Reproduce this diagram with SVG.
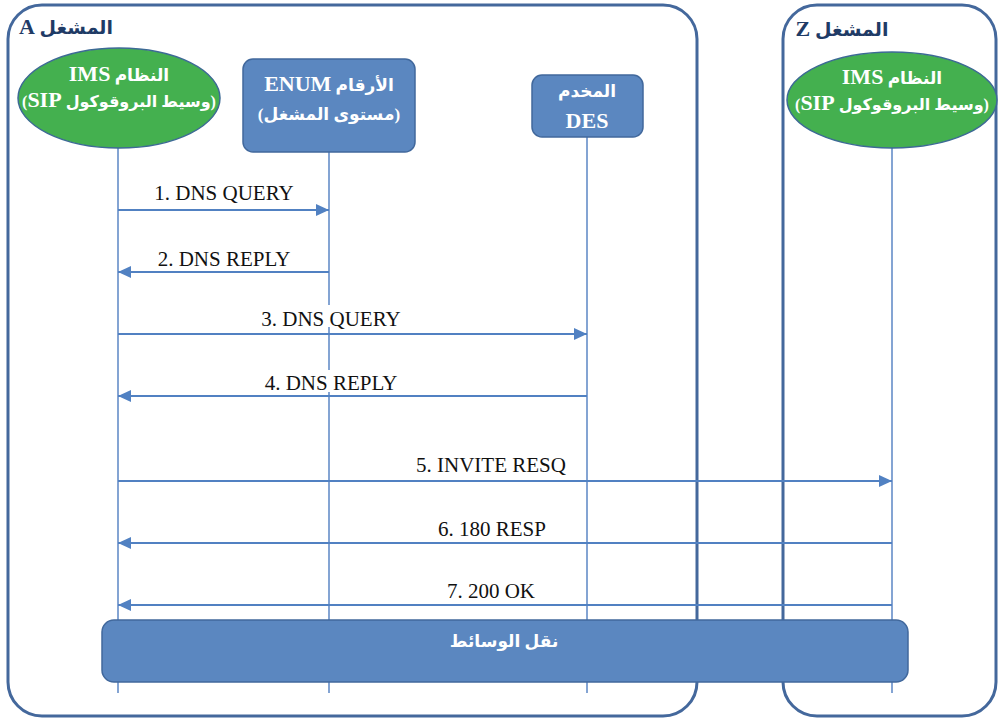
<svg xmlns="http://www.w3.org/2000/svg" width="998" height="722" viewBox="0 0 998 722">
  <style>
    .op { fill: none; stroke: #44689c; stroke-width: 3; }
    .oplabel { font-family: "Liberation Serif", "DejaVu Sans", serif; font-weight: bold; font-size: 19px; fill: #1f3b66; }
    .ims { fill: #44b04f; stroke: #3d6a95; stroke-width: 1.5; }
    .box { fill: #5b87c0; stroke: #41689c; stroke-width: 1.5; }
    .ntext { font-family: "Liberation Serif", "DejaVu Sans", serif; font-weight: bold; font-size: 17px; fill: #ffffff; text-anchor: middle; }
    .tight { font-size: 16px; }
    .lat { font-size: 22px; }
    .life { stroke: #5b86c5; stroke-width: 1.5; fill: none; }
    .msg { stroke: #5181c2; stroke-width: 2; fill: none; marker-end: url(#head); }
    .mlabel { font-family: "Liberation Serif", serif; font-size: 21px; fill: #111111; text-anchor: middle; }
    .bg { fill: #ffffff; }
  </style>
  <defs>
    <marker id="head" viewBox="0 0 13 12" refX="13" refY="6" markerUnits="userSpaceOnUse" markerWidth="13" markerHeight="12" orient="auto">
      <path d="M0,0 L13,6 L0,12 z" fill="#5181c2"/>
    </marker>
  </defs>

  <rect width="998" height="722" fill="#ffffff"/>

  <!-- operator domains -->
  <g id="operator-a">
    <rect class="op" x="8" y="5" width="689" height="711" rx="34" ry="34"/>
    <text class="oplabel" x="66" y="34" text-anchor="middle" direction="rtl">المشغل <tspan class="lat">A</tspan></text>
  </g>
  <g id="operator-z">
    <rect class="op" x="783" y="5" width="213" height="711" rx="34" ry="34"/>
    <text class="oplabel" x="842" y="36" text-anchor="middle" direction="rtl">المشغل <tspan class="lat">Z</tspan></text>
  </g>

  <!-- lifelines -->
  <g id="lifelines">
    <line class="life" x1="118" y1="148" x2="118" y2="693"/>
    <line class="life" x1="329" y1="152" x2="329" y2="693"/>
    <line class="life" x1="587" y1="137" x2="587" y2="693"/>
    <line class="life" x1="892" y1="148" x2="892" y2="693"/>
  </g>

  <!-- nodes -->
  <g id="ims-a">
    <ellipse class="ims" cx="119" cy="98" rx="101" ry="50"/>
    <text class="ntext" x="119" y="81" direction="rtl">النظام <tspan class="lat">IMS</tspan></text>
    <text class="ntext tight" x="119" y="107" direction="rtl">(وسيط البروقوكول <tspan class="lat">SIP</tspan>)</text>
  </g>
  <g id="enum">
    <rect class="box" x="243" y="59" width="172" height="93" rx="10" ry="10"/>
    <text class="ntext" x="329" y="91" direction="rtl">الأرقام <tspan class="lat">ENUM</tspan></text>
    <text class="ntext" x="329" y="120" direction="rtl">(مستوى المشغل)</text>
  </g>
  <g id="des">
    <rect class="box" x="532" y="75" width="111" height="62" rx="10" ry="10"/>
    <text class="ntext" x="587" y="97" direction="rtl">المخدم</text>
    <text class="ntext lat" x="587" y="128">DES</text>
  </g>
  <g id="ims-z">
    <ellipse class="ims" cx="892" cy="100" rx="105" ry="48"/>
    <text class="ntext" x="892" y="84" direction="rtl">النظام <tspan class="lat">IMS</tspan></text>
    <text class="ntext tight" x="892" y="110" direction="rtl">(وسيط البروقوكول <tspan class="lat">SIP</tspan>)</text>
  </g>

  <!-- messages -->
  <g id="connectors">
    <rect class="bg" x="257" y="305" width="148" height="22"/>
    <rect class="bg" x="259" y="370" width="143" height="22"/>

    <line class="msg" x1="118" y1="210" x2="329" y2="210"/>
    <text class="mlabel" x="224" y="200">1. DNS QUERY</text>

    <line class="msg" x1="329" y1="272" x2="118" y2="272"/>
    <text class="mlabel" x="224" y="266">2. DNS REPLY</text>

    <line class="msg" x1="118" y1="334" x2="587" y2="334"/>
    <text class="mlabel" x="331" y="326">3. DNS QUERY</text>

    <line class="msg" x1="587" y1="396" x2="118" y2="396"/>
    <text class="mlabel" x="331" y="390">4. DNS REPLY</text>

    <line class="msg" x1="118" y1="481" x2="892" y2="481"/>
    <text class="mlabel" x="491" y="472">5. INVITE RESQ</text>

    <line class="msg" x1="892" y1="543" x2="118" y2="543"/>
    <text class="mlabel" x="492" y="536">6. 180 RESP</text>

    <line class="msg" x1="892" y1="605" x2="118" y2="605"/>
    <text class="mlabel" x="491" y="598">7. 200 OK</text>
  </g>

  <!-- media transport bar -->
  <g id="media">
    <rect class="box" x="102" y="620" width="806" height="62" rx="12" ry="12"/>
    <text class="ntext" x="504" y="647" direction="rtl">نقل الوسائط</text>
  </g>
</svg>
